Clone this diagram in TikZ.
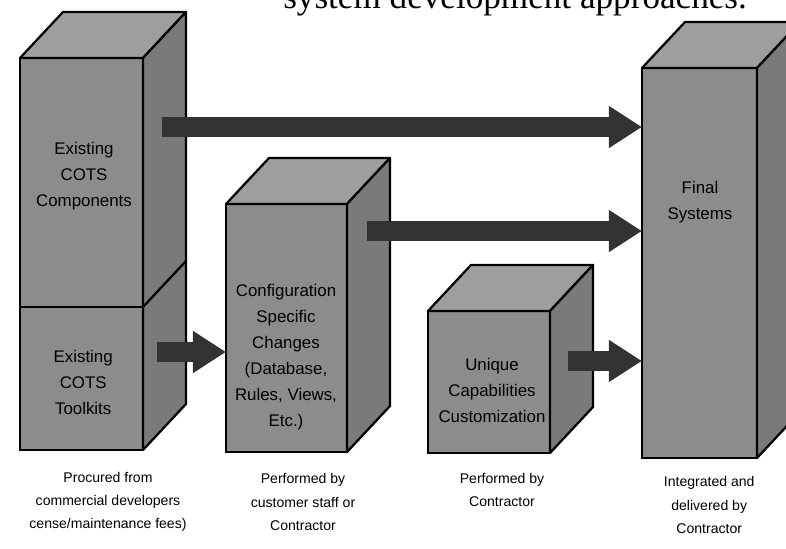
\documentclass[tikz,border=0pt]{standalone}
\usepackage{fontspec}
\setmainfont{Liberation Serif}
\setsansfont{Liberation Sans}
\usepackage{tikz}
\usetikzlibrary{arrows.meta}
\def\DX{1.075}
\def\DY{1.15}
\def\CUBE#1#2{\draw[top] (#1.north west) -- ++(\DX,\DY) -- ([shift={(\DX,\DY)}]#1.north east) -- (#1.north east) -- cycle;
\draw[side] (#1.north east) -- ++(\DX,\DY) -- ([shift={(\DX,\DY)}]#2.south east) -- (#2.south east) -- cycle;}

\begin{document}
\begin{tikzpicture}[
  front/.style={draw, line width=1.6pt, fill=black!45, inner sep=0pt, outer sep=0pt, anchor=south west},
  top/.style={line width=1.6pt, fill=black!38, line join=round},
  side/.style={line width=1.6pt, fill=black!52, line join=round},
  boxtext/.style={font=\sffamily\fontsize{12}{18.5}\selectfont, align=center},
  note/.style={font=\sffamily\fontsize{10}{16.5}\selectfont, align=center},
  bigarrow/.style={line width=0.5cm, black!80, -{Triangle[length=0.83cm,width=1cm]}}]
\useasboundingbox (0,0) rectangle (19.65,13.7);
\clip (0,0) rectangle (19.65,13.7);
\node[anchor=base west, inner sep=0pt, font=\fontsize{25}{30}\selectfont] (title) at (7.075,13.475) {system development approaches.};
% the four blocks
\node[front, minimum width=3.075cm, minimum height=6.225cm] (comp) at (0.5,6.025) {};
\node[front, minimum width=3.075cm, minimum height=3.575cm] (tool) at (0.5,2.45) {};
\CUBE{comp}{tool}
\draw[line width=1.6pt] (comp.south east) -- ++(\DX,\DY);
\node[front, minimum width=3.025cm, minimum height=6.2cm] (conf) at (5.65,2.4) {};
\CUBE{conf}{conf}
\node[front, minimum width=3.05cm, minimum height=3.55cm] (uniq) at (10.7,2.375) {};
\CUBE{uniq}{uniq}
\node[front, minimum width=2.875cm, minimum height=9.75cm] (final) at (16.05,2.25) {};
\CUBE{final}{final}
\node[boxtext] (t-comp) at (2.1,9.3) {Existing\\COTS\\Components};
\node[boxtext] (t-tool) at (2.08,4.15) {Existing\\COTS\\Toolkits};
\node[boxtext] (t-conf) at (7.15,4.775) {Configuration\\Specific\\Changes\\(Database,\\Rules, Views,\\Etc.)};
\node[boxtext] (t-uniq) at (12.3,3.95) {Unique\\Capabilities\\Customization};
\node[boxtext] (t-final) at (17.5,8.65) {Final\\Systems};
% arrows
\coordinate (a1) at (4.05,10.525);
\coordinate (a2) at (9.175,7.925);
\coordinate (a3) at (3.925,4.9);
\coordinate (a4) at (14.2,4.675);
\draw[bigarrow] (a1) -- (a1 -| final.west);
\draw[bigarrow] (a2) -- (a2 -| final.west);
\draw[bigarrow] (a3) -- (a3 -| conf.west);
\draw[bigarrow] (a4) -- (a4 -| final.west);
\node[note] (n-comp) at (2.7,1.15) {Procured from\\commercial developers\\cense/maintenance fees)};
\node[note] (n-conf) at (7.575,1.15) {Performed by\\customer staff or\\Contractor};
\node[note] (n-uniq) at (12.55,1.45) {Performed by\\Contractor};
\node[note] (n-final) at (17.73,1.075) {Integrated and\\delivered by\\Contractor};
\end{tikzpicture}
\end{document}
